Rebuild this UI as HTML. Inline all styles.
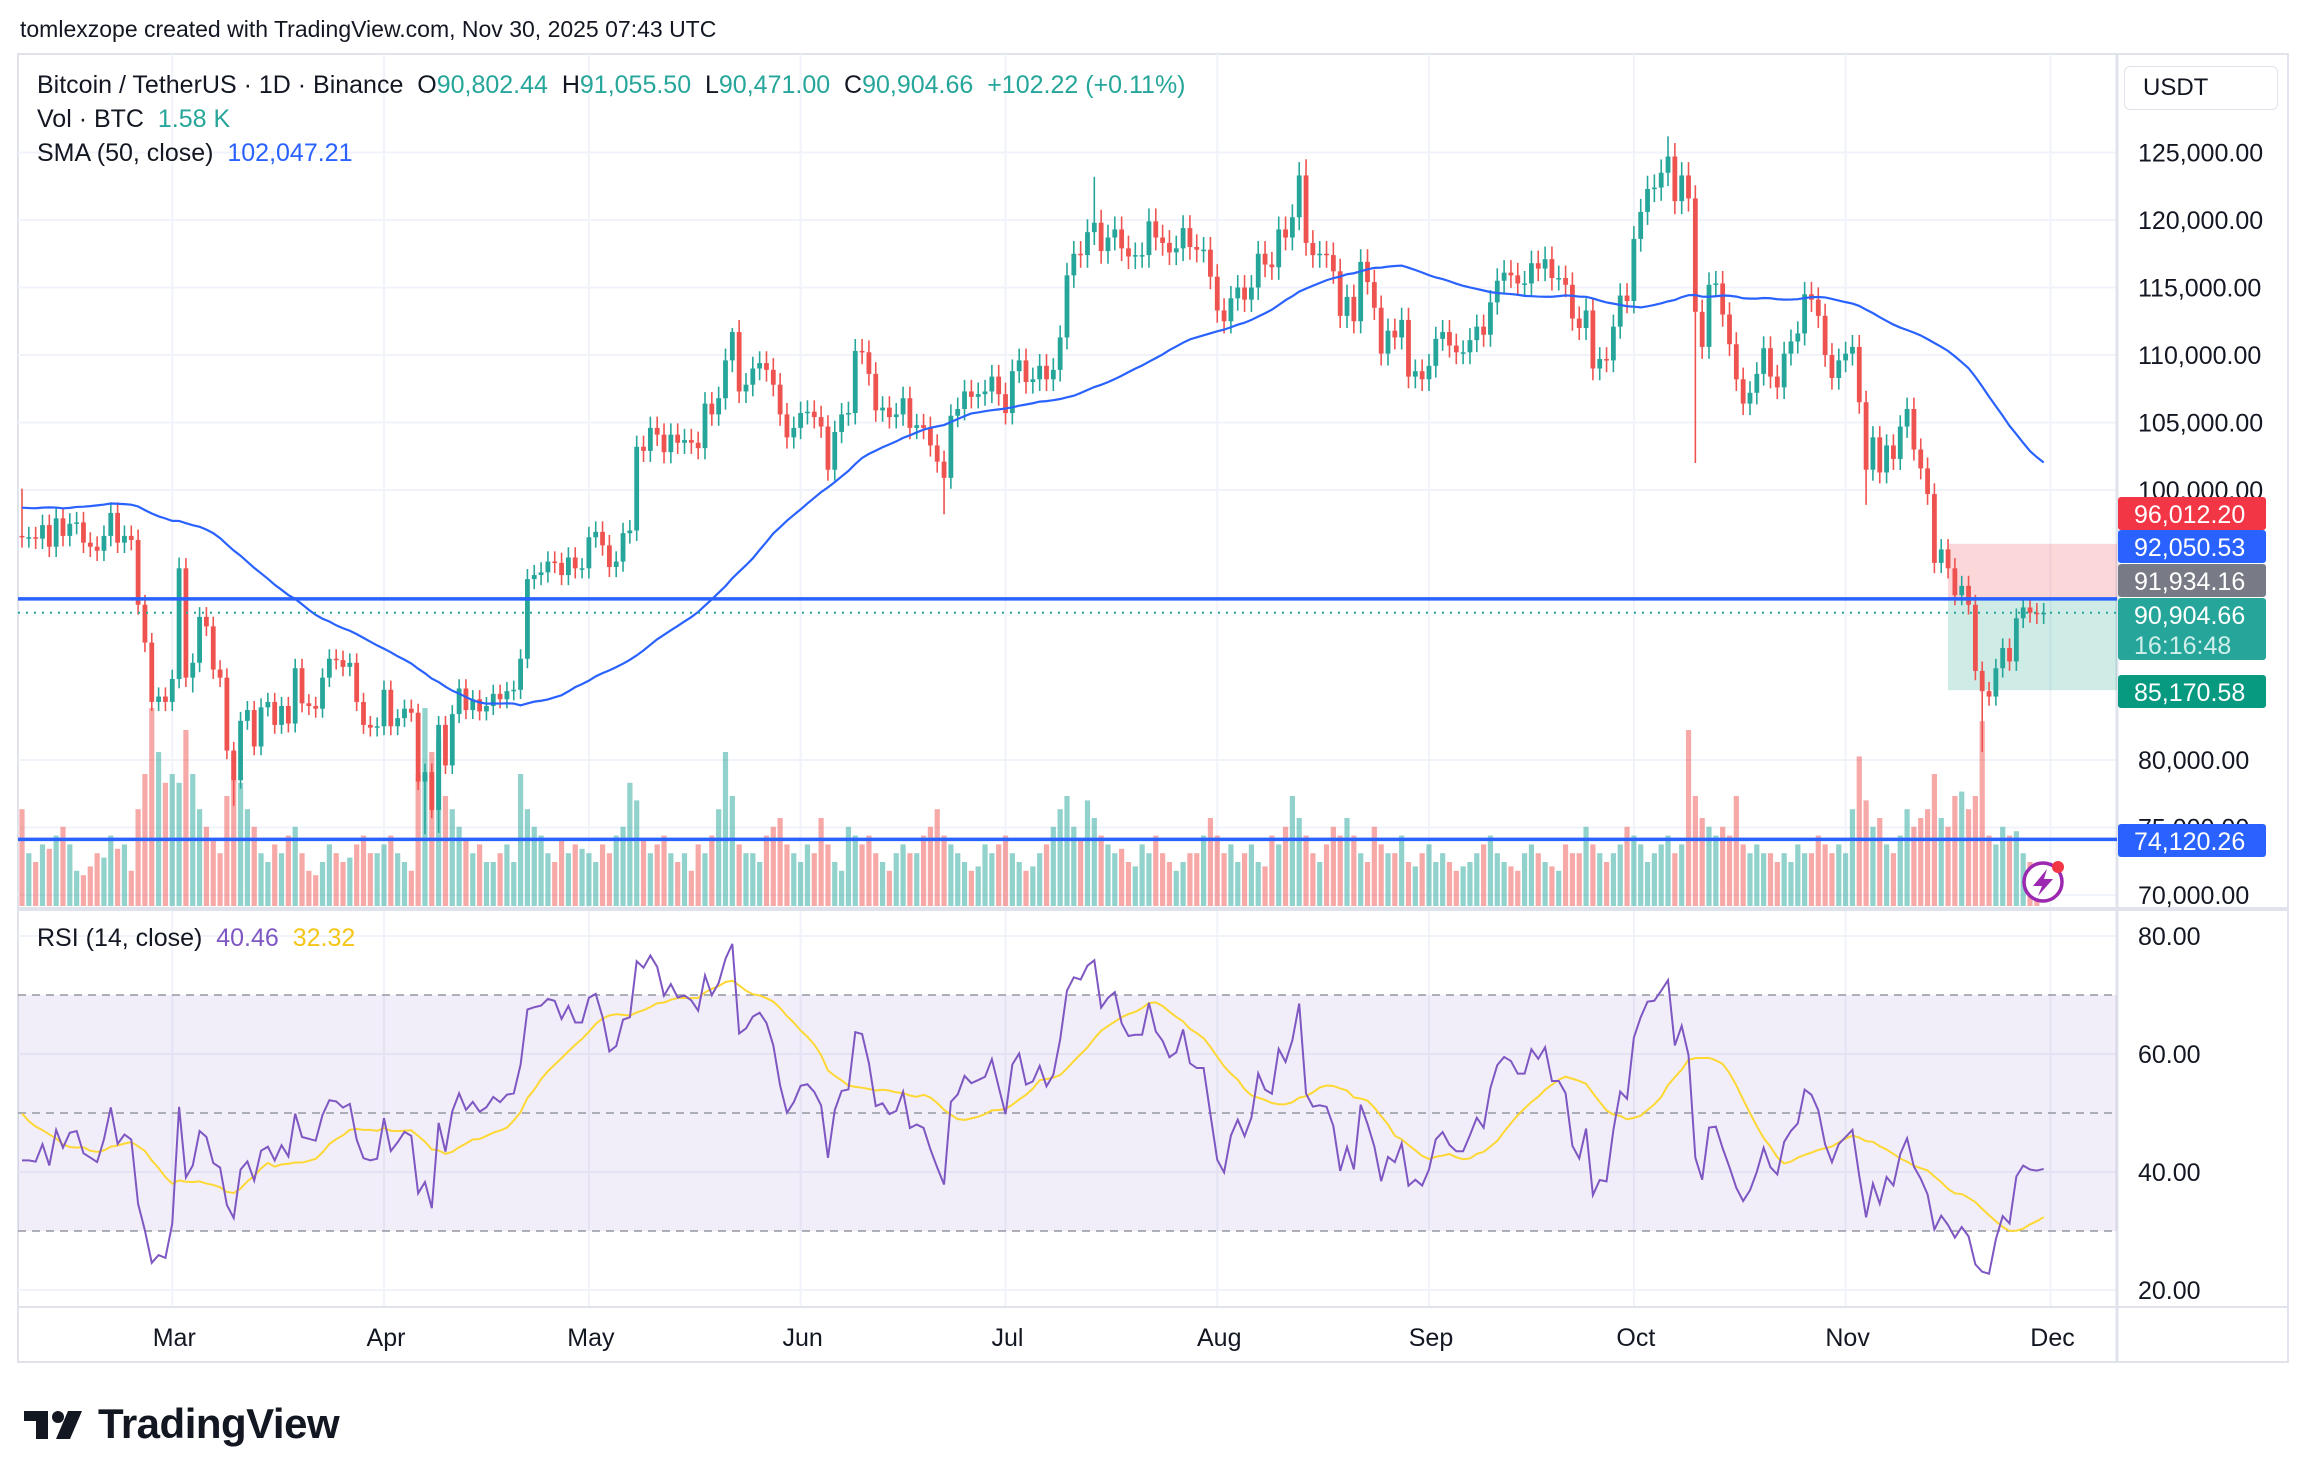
<!DOCTYPE html>
<html><head><meta charset="utf-8"><style>
html,body{margin:0;padding:0;background:#fff;}
body{width:2308px;height:1484px;position:relative;overflow:hidden;font-family:"Liberation Sans",sans-serif;color:#131722;}
.abs{position:absolute;white-space:nowrap;}
</style></head><body>
<div class="abs" style="left:20px;top:16px;font-size:23px;">tomlexzope created with TradingView.com, Nov 30, 2025 07:43 UTC</div>
<svg id="chart" width="2308" height="1484" style="position:absolute;left:0;top:0;" xmlns="http://www.w3.org/2000/svg"></svg>
<div class="abs" style="left:37px;top:71px;font-size:25px;">Bitcoin / TetherUS · 1D · Binance&nbsp; O<span style="color:#26a69a">90,802.44</span>&nbsp; H<span style="color:#26a69a">91,055.50</span>&nbsp; L<span style="color:#26a69a">90,471.00</span>&nbsp; C<span style="color:#26a69a">90,904.66</span>&nbsp; <span style="color:#26a69a">+102.22 (+0.11%)</span></div>
<div class="abs" style="left:37px;top:105px;font-size:25px;">Vol · BTC&nbsp; <span style="color:#26a69a">1.58 K</span></div>
<div class="abs" style="left:37px;top:139px;font-size:25px;">SMA (50, close)&nbsp; <span style="color:#2962ff">102,047.21</span></div>
<div class="abs" style="left:37px;top:924px;font-size:25px;">RSI (14, close)&nbsp; <span style="color:#7e57c2">40.46</span>&nbsp; <span style="color:#f5c518">32.32</span></div>
<div class="abs" style="left:2124px;top:66px;width:154px;height:44px;border:1px solid #e0e3eb;border-radius:6px;box-sizing:border-box;font-size:24px;line-height:42px;padding-left:18px;">USDT</div>
<div class="abs" style="left:24px;top:1400px;height:48px;display:flex;align-items:center;">
<svg width="70" height="34" viewBox="0 0 70 34"><rect x="0" y="4" width="24" height="10" fill="#131722"/><rect x="12" y="4" width="12" height="28" fill="#131722"/><circle cx="34" cy="10" r="6" fill="#131722"/><polygon points="44,4 58,4 46,32 32,32" fill="#131722"/></svg>
<span style="font-size:42px;font-weight:bold;margin-left:4px;letter-spacing:-0.5px;">TradingView</span></div>
<script>
const preCloses=[97.8,97.2,95.1,94.7,98.7,99.4,95.8,94.2,95.1,93.7,92.8,93.6,94.4,96.9,98.1,98.2,98.3,102.1,96.9,95.0,92.5,94.7,94.5,94.5,94.5,96.5,100.5,99.9,104.1,104.4,101.1,102.0,106.1,103.7,104.0,104.7,104.7,102.6,102.1,101.3,103.7,104.7,102.4,100.6,97.7,101.4,97.8,96.6,96.6];
const closes=[96.5,96.5,96.4,97.4,95.8,97.9,96.6,97.5,97.6,96.1,95.8,95.5,96.6,98.3,96.1,96.6,96.3,91.5,88.7,84.3,84.7,84.3,
86.0,94.2,86.1,87.2,90.6,89.9,86.7,86.1,80.7,78.5,82.9,83.7,81.0,83.9,84.3,82.6,84.0,82.7,86.8,84.2,84.0,83.8,86.1,87.5,87.4,86.9,87.2,84.3,82.6,82.4,82.5,
85.2,82.5,83.1,83.8,83.5,78.4,79.1,76.3,82.6,79.6,83.4,85.3,83.7,84.5,83.6,84.0,84.9,84.5,85.1,85.2,87.5,93.4,93.7,93.9,94.7,94.6,93.7,95.0,94.2,94.2,
96.5,96.9,95.9,94.3,94.7,96.8,97.0,103.2,102.9,104.6,104.1,102.8,104.1,103.5,103.7,103.5,103.1,106.4,105.6,106.8,109.6,111.7,107.3,107.8,109.0,109.4,108.9,107.8,105.6,103.9,104.6,
105.7,105.8,105.4,104.7,101.5,104.3,105.6,105.7,110.3,110.2,108.6,105.9,106.1,105.4,105.6,106.8,104.6,104.8,104.6,103.3,102.1,100.9,105.5,106.0,107.3,106.9,107.1,107.3,108.4,107.1,
105.7,108.8,109.6,108.0,108.2,109.2,108.2,108.9,111.3,115.9,117.5,117.4,119.1,119.8,117.7,118.7,119.3,117.9,117.3,117.4,117.4,119.9,118.7,118.3,117.6,117.9,119.4,118.0,117.8,117.8,115.8,
113.3,112.5,114.2,115.0,114.1,115.0,117.5,116.7,116.5,119.3,118.7,120.2,123.3,118.3,117.4,117.5,117.4,116.2,112.9,114.3,112.5,116.9,115.4,113.5,110.1,111.8,111.3,112.6,108.4,108.8,108.2,
109.2,111.2,111.7,110.7,110.2,110.2,111.1,112.1,111.5,113.9,115.5,116.1,115.9,115.3,115.3,116.8,116.4,117.1,115.7,115.7,115.2,112.7,112.0,113.3,109.0,109.7,109.6,112.1,114.4,114.0,
118.6,120.6,122.3,122.4,123.5,124.7,121.4,123.3,121.6,113.2,110.6,115.2,115.3,113.0,110.8,108.2,106.4,107.2,108.6,110.5,108.4,107.6,110.1,111.0,111.6,114.5,114.1,112.9,110.0,108.3,109.6,
110.1,110.6,106.5,101.5,103.9,101.3,103.3,102.3,104.7,106.0,103.0,101.6,99.7,94.6,95.6,94.2,92.2,92.9,91.5,86.6,85.1,84.7,86.8,88.3,87.3,90.5,91.3,90.9,90.8,90.9];
const volumes=[22,12,10,14,13,16,18,14,8,7,9,12,11,16,13,14,8,22,30,45,35,28,
30,28,40,30,22,18,15,12,25,35,28,22,18,12,10,14,12,16,18,12,8,7,10,14,12,10,11,14,16,12,12,
14,16,12,10,8,30,45,35,38,25,22,18,15,12,14,10,10,12,14,10,30,22,18,16,12,10,15,12,14,
13,12,10,14,12,16,18,28,24,15,12,14,16,12,10,12,8,14,12,16,22,35,25,14,12,12,10,16,18,20,14,
12,10,14,12,20,14,10,8,18,16,14,16,12,10,8,12,14,12,12,16,18,22,16,14,12,10,8,9,14,12,
14,16,12,10,8,9,12,14,18,22,25,18,15,24,20,16,14,12,13,10,9,14,12,16,12,10,8,10,12,12,16,
20,16,12,14,10,12,14,10,9,16,14,18,25,20,16,12,10,14,18,16,20,16,12,10,18,14,12,12,16,10,9,
12,14,10,12,10,8,9,10,12,14,16,12,10,9,8,12,14,12,10,9,8,14,12,12,18,14,12,10,12,14,
18,16,14,10,12,14,16,12,14,40,25,20,18,16,18,16,25,14,12,14,12,12,10,12,10,14,12,12,16,14,12,
14,12,22,34,24,18,20,14,12,16,22,18,20,22,30,20,18,25,26,22,25,42,16,14,18,16,17,12,10,4];
const hiOverride={0:100.1,23:95.0,104:112.0,157:123.2,188:124.5,241:126.2};
const loOverride={59:74.5,61:74.6,245:102.0,270:98.9,287:80.6,25:85.0,31:76.6,135:98.2};
const priceTicks=[125000,120000,115000,110000,105000,100000,80000,75000,70000];
const rsiTicks=[80,60,40,20];
const monthLabels=["Mar","Apr","May","Jun","Jul","Aug","Sep","Oct","Nov","Dec"];
const monthIndex=[22,53,83,114,144,175,206,236,267,297];
const hLevels=[91934.16,74120.26];
const posEntry=91934.16,posStop=96012.20,posTarget=85170.58,posStart=282;

const NS="http://www.w3.org/2000/svg";
const svg=document.getElementById('chart');
function el(tag,attrs,parent){const e=document.createElementNS(NS,tag);for(const k in attrs)e.setAttribute(k,attrs[k]);(parent||svg).appendChild(e);return e;}
const X0=22,DX=6.83;
const xOf=i=>X0+i*DX;
const yP=p=>760-(p-80000)*0.0135;
const yR=v=>936+(80-v)*5.9;
const yVol=v=>906-v*4.4;
const PL=18,PR=2117,RT=2288;
const FONT='Liberation Sans, sans-serif';

let f=el('rect',{x:PL,y:54,width:RT-PL,height:1308,fill:'none',stroke:'#e0e3eb','stroke-width':2});

priceTicks.forEach(t=>{let g=el('line',{x1:PL,x2:PR,y1:yP(t),y2:yP(t),stroke:'#f0f3fa','stroke-width':2});
});
rsiTicks.forEach(t=>{let g=el('line',{x1:PL,x2:PR,y1:yR(t),y2:yR(t),stroke:'#f0f3fa','stroke-width':2});
});
monthIndex.forEach(i=>{let g=el('line',{x1:xOf(i),x2:xOf(i),y1:54,y2:1307,stroke:'#f0f3fa','stroke-width':2});
});
let s1=el('line',{x1:PR,x2:PR,y1:54,y2:1362,stroke:'#e0e3eb','stroke-width':3});

let s2=el('line',{x1:PL,x2:RT,y1:909,y2:909,stroke:'#e0e3eb','stroke-width':4});

let s3=el('line',{x1:PL,x2:RT,y1:1307,y2:1307,stroke:'#e0e3eb','stroke-width':2});


const opens=closes.map((c,i)=>i===0?96.6:closes[i-1]);
volumes.forEach((v,i)=>{const up=closes[i]>=opens[i];
let r=el('rect',{x:xOf(i)-2.6,y:yVol(v),width:5.2,height:906-yVol(v),fill:up?'#26a69a':'#ef5350',opacity:0.5});
});

let pr=el('rect',{x:xOf(posStart),y:yP(posStop),width:PR-xOf(posStart),height:yP(posEntry)-yP(posStop),fill:'rgba(242,54,69,0.2)'});

let pg=el('rect',{x:xOf(posStart),y:yP(posEntry),width:PR-xOf(posStart),height:yP(posTarget)-yP(posEntry),fill:'rgba(8,153,129,0.2)'});


closes.forEach((c,i)=>{const o=opens[i];const up=c>=o;const col=up?'#26a69a':'#ef5350';
const hi=hiOverride[i]!==undefined?hiOverride[i]:Math.max(o,c)*1.008;
const lo=loOverride[i]!==undefined?loOverride[i]:Math.min(o,c)*0.992;
const g=el('g',{});

el('line',{x1:xOf(i),x2:xOf(i),y1:yP(hi*1000),y2:yP(lo*1000),stroke:col,'stroke-width':1.6},g);
const yt=yP(Math.max(o,c)*1000),yb=yP(Math.min(o,c)*1000);
el('rect',{x:xOf(i)-2.4,y:yt,width:4.8,height:Math.max(1.5,yb-yt),fill:col},g);});

const all=preCloses.concat(closes);const N0=preCloses.length;
let smaPts=[];
for(let i=0;i<closes.length;i++){let s=0;for(let k=0;k<50;k++)s+=all[N0+i-k];smaPts.push(xOf(i)+','+yP(s/50*1000));}
let sm=el('polyline',{points:smaPts.join(' '),fill:'none',stroke:'#2962ff','stroke-width':2.2});


hLevels.forEach(p=>{let l=el('line',{x1:PL,x2:PR,y1:yP(p),y2:yP(p),stroke:'#2962ff','stroke-width':3.5});
});
let cur=el('line',{x1:PL,x2:PR,y1:yP(90904.66),y2:yP(90904.66),stroke:'#26a69a','stroke-width':2,'stroke-dasharray':'2 6'});


const fmt=v=>v.toLocaleString('en-US',{minimumFractionDigits:2,maximumFractionDigits:2});
priceTicks.forEach(t=>{let tx=el('text',{x:2138,y:yP(t)+9,'font-size':25,fill:'#131722','font-family':FONT});
tx.textContent=fmt(t);});
const tags=[[497,'#f23645','96,012.20',33],[530,'#2962ff','92,050.53',33],[564,'#787b86','91,934.16',33],[598,'#26a69a','90,904.66',62],[675,'#089981','85,170.58',33],[824,'#2962ff','74,120.26',33]];
tags.forEach(t=>{const g=el('g',{});
el('rect',{x:2118,y:t[0],width:148,height:t[3],rx:3,fill:t[1]},g);
const tx=el('text',{x:2134,y:t[0]+26,'font-size':25,fill:'#fff','font-family':FONT},g);tx.textContent=t[2];
if(t[3]>40){const t2=el('text',{x:2134,y:t[0]+56,'font-size':25,fill:'#d0efeb','font-family':FONT},g);t2.textContent='16:16:48';}});

let gains=[],losses=[];for(let i=1;i<all.length;i++){const d=all[i]-all[i-1];gains.push(Math.max(d,0));losses.push(Math.max(-d,0));}
let ag=0,al=0;for(let i=0;i<14;i++){ag+=gains[i];al+=losses[i];}ag/=14;al/=14;
let rsiAll=[];for(let i=14;i<gains.length;i++){ag=(ag*13+gains[i])/14;al=(al*13+losses[i])/14;rsiAll[i+1]=100-100/(1+ag/(al||1e-9));}
let band=el('rect',{x:PL,y:yR(70),width:PR-PL,height:yR(30)-yR(70),fill:'rgba(126,87,194,0.1)'});

[70,50,30].forEach(v=>{let l=el('line',{x1:PL,x2:PR,y1:yR(v),y2:yR(v),stroke:'#9598a1','stroke-width':1.5,'stroke-dasharray':'8 6'});
});
let rp=[],mp=[];
for(let i=0;i<closes.length;i++){const j=N0+i;rp.push(xOf(i)+','+yR(rsiAll[j]));
let s=0;for(let k=0;k<14;k++)s+=rsiAll[j-k];mp.push(xOf(i)+','+yR(s/14));}
let rma=el('polyline',{points:mp.join(' '),fill:'none',stroke:'#fdd835','stroke-width':2});

let rl=el('polyline',{points:rp.join(' '),fill:'none',stroke:'#7e57c2','stroke-width':2});

rsiTicks.forEach(t=>{let tx=el('text',{x:2138,y:yR(t)+9,'font-size':25,fill:'#131722','font-family':FONT});
tx.textContent=t.toFixed(2);});

monthLabels.forEach((m,k)=>{let tx=el('text',{x:xOf(monthIndex[k])+2,y:1346,'font-size':25,fill:'#131722','text-anchor':'middle','font-family':FONT});
tx.textContent=m;});

const li=el('g',{});
el('circle',{cx:2043,cy:882,r:19,fill:'#fff',stroke:'#9c27b0','stroke-width':3.5},li);
el('polygon',{points:'2047,869 2033,886 2042,886 2038,896 2053,879 2044,879',fill:'#9c27b0'},li);
el('circle',{cx:2058,cy:867,r:6,fill:'#f23645'},li);
</script>
</body></html>
